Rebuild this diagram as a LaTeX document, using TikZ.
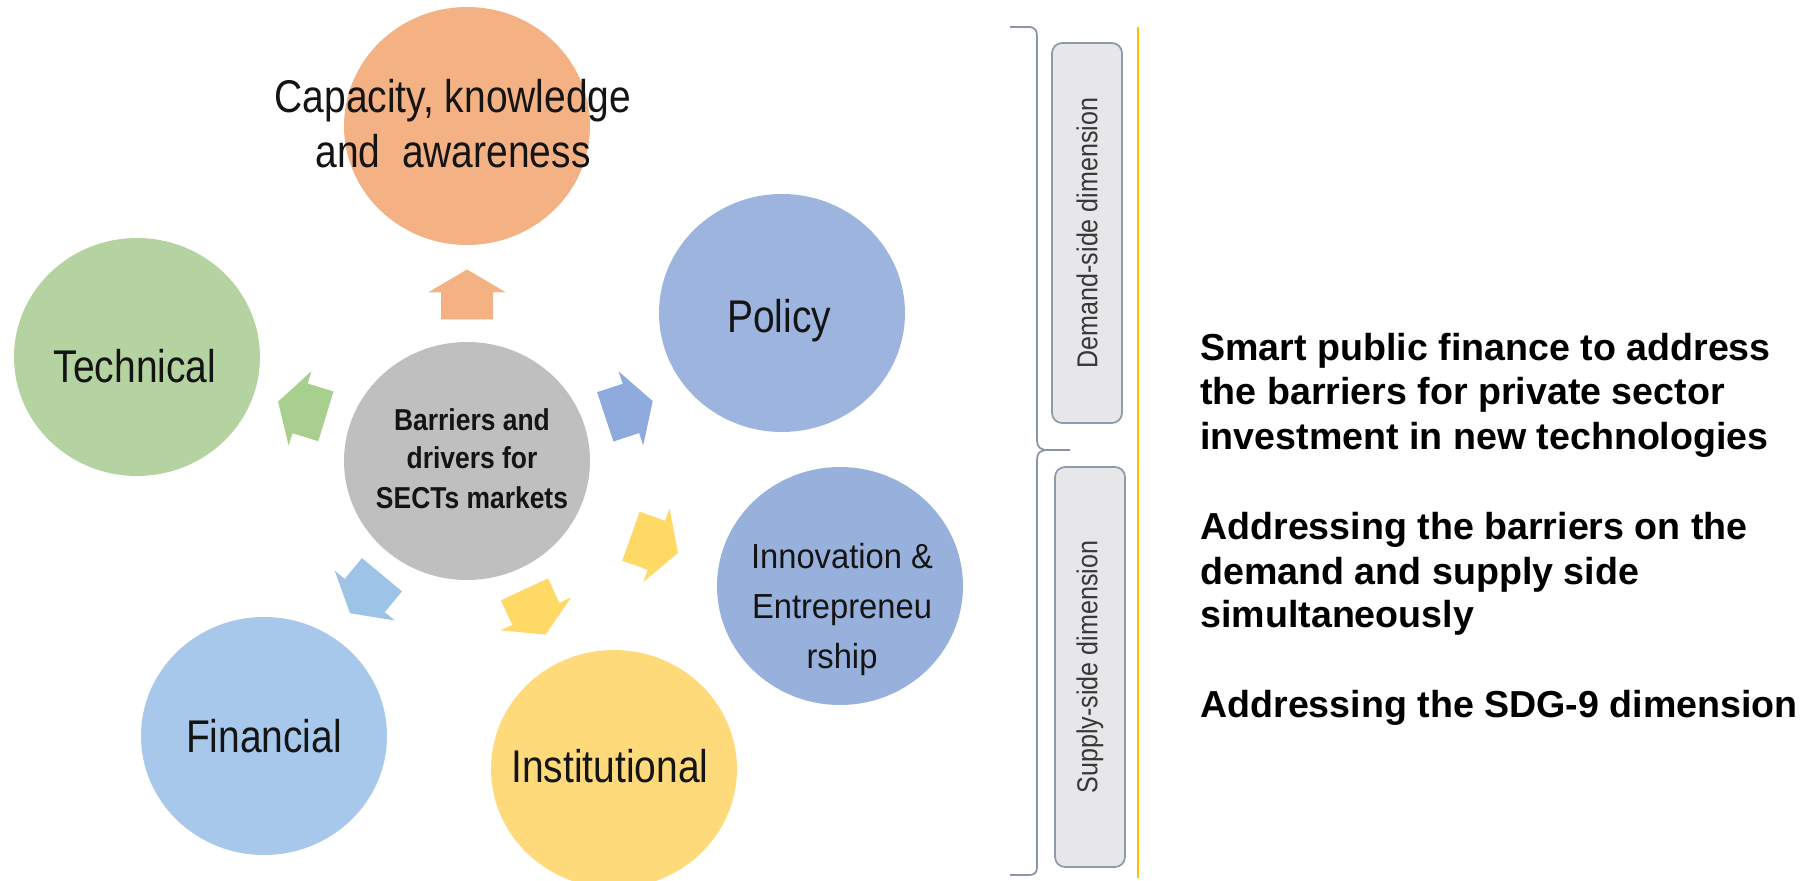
\documentclass[tikz,border=0pt]{standalone}
\usepackage{fontspec}
\setmainfont{Liberation Sans}
\newfontfamily\lblfont[FakeStretch=0.85]{Liberation Sans}
\newfontfamily\innfont[FakeStretch=0.94]{Liberation Sans}
\newfontfamily\ctrfont[FakeStretch=0.875]{Liberation Sans Bold}
\newfontfamily\dimfont[FakeStretch=0.87]{Liberation Sans}
\newfontfamily\rtfont{Liberation Sans Bold}
\usetikzlibrary{shapes.geometric}
\definecolor{cOrange}{HTML}{F4B183}
\definecolor{cGreen}{HTML}{B4D3A0}
\definecolor{cPolicy}{HTML}{9DB4DE}
\definecolor{cInnov}{HTML}{98B0DC}
\definecolor{cFin}{HTML}{A7C8EA}
\definecolor{cInst}{HTML}{FFDA7A}
\definecolor{cGray}{HTML}{BFBFBF}
\definecolor{aOrange}{HTML}{F4B183}
\definecolor{aGreen}{HTML}{A9CF8F}
\definecolor{aBlue}{HTML}{8FAADC}
\definecolor{aYellow}{HTML}{FFD966}
\definecolor{aLight}{HTML}{9DC3E6}
\definecolor{txt}{HTML}{141414}
\definecolor{boxfill}{HTML}{E7E7EA}
\definecolor{boxline}{HTML}{8E9AAE}
\definecolor{brace}{HTML}{8A94A4}
\definecolor{gold}{HTML}{FFC000}
\tikzset{
  bub/.style={ellipse, minimum width=4.92cm, minimum height=4.76cm, inner sep=0pt, draw=none},
  big/.style={font=\lblfont\fontsize{26.1}{31}\selectfont, text=txt, inner sep=0pt, anchor=base},
  inn/.style={font=\innfont\fontsize{19.8}{24}\selectfont, text=txt, inner sep=0pt, anchor=base},
  ctr/.style={font=\ctrfont\fontsize{17.2}{21}\selectfont, text=txt, inner sep=0pt, anchor=base},
  rt/.style={font=\rtfont\fontsize{21.4}{25}\selectfont, text=black, inner sep=0pt, anchor=base west},
  dimbox/.style={rectangle, rounded corners=0.2cm, fill=boxfill, draw=boxline, line width=1pt,
    minimum height=1.4cm, inner sep=0pt, rotate=90, font=\dimfont\fontsize{16.4}{20}\selectfont, text=txt!85},
  barrow/.pic={\path[pic actions] (25,0) -- (2,39) -- (2,26) -- (-25,26) -- (-25,-26) -- (2,-26) -- (2,-39) -- cycle;}
}
\begin{document}
\begin{tikzpicture}[x=0.02cm,y=-0.02cm]
\useasboundingbox (0,0) rectangle (1808,881);
\clip (0,0) rectangle (1808,881);
\fill[white] (0,0) rectangle (1808,881);

% circles
\node[bub, fill=cOrange] (cap) at (467,126) {};
\node[bub, fill=cGreen] (tech) at (137,357) {};
\node[bub, fill=cPolicy] (pol) at (782,313) {};
\node[bub, fill=cInnov] (inno) at (840,586) {};
\node[bub, fill=cFin] (fin) at (264,736) {};
\node[bub, fill=cInst] (inst) at (614,769) {};
\node[bub, fill=cGray] (ctr) at (467,461) {};

% labels
\node[big] (capA) at (453,113) {Capacity, knowledge};
\node[big] (capB) at (453,168) {and\ \ awareness};
\node[big] (techL) at (135,383) {Technical};
\node[big] (polL) at (779,333) {Policy};
\node[big] (finL) at (264,752) {Financial};
\node[big] (instL) at (610,782) {Institutional};
\node[inn] (innA) at (842,568) {Innovation \&};
\node[inn] (innB) at (842,618) {Entrepreneu};
\node[inn] (innC) at (842,668) {rship};
\node[ctr] (ctrA) at (472,431) {Barriers and};
\node[ctr] (ctrB) at (472,469) {drivers for};
\node[ctr] (ctrC) at (472,508) {SECTs markets};

% block arrows
\pic[fill=aOrange, rotate=90] at (467,294.5) {barrow};
\pic[fill=aGreen, rotate=163] at (302,409) {barrow};
\pic[fill=aBlue, rotate=18.4] at (629,409) {barrow};
\pic[fill=aYellow, rotate=-19.6] at (654.5,544.6) {barrow};
\pic[fill=aYellow, rotate=-65] at (535,612) {barrow};
\pic[fill=aLight, rotate=-129.7] at (366,594) {barrow};

% brace
\draw[brace, line width=1pt]
  (1010,27) -- (1028,27) .. controls (1035,27) and (1037,30) .. (1037,37)
  -- (1037,440) .. controls (1037,447) and (1040,450) .. (1048,450) -- (1070,450);
\draw[brace, line width=1pt]
  (1048,450) .. controls (1040,450) and (1037,453) .. (1037,460)
  -- (1037,866) .. controls (1037,873) and (1035,875) .. (1028,875) -- (1010,875);

% side boxes
\node[dimbox, minimum width=7.6cm] (dem) at (1087,233) {Demand-side dimension};
\node[dimbox, minimum width=8.0cm] (sup) at (1090,667) {Supply-side dimension};

% gold line
\draw[gold, line width=1.2pt] (1138,27) -- (1138,878);

% right text
\node[rt] (r1) at (1200,361) {Smart public finance to address};
\node[rt] (r2) at (1200,405) {the barriers for private sector};
\node[rt] (r3) at (1200,450) {investment in new technologies};
\node[rt] (r4) at (1200,540) {Addressing the barriers on the};
\node[rt] (r5) at (1200,584) {demand and supply side};
\node[rt] (r6) at (1200,627) {simultaneously};
\node[rt] (r7) at (1200,717) {Addressing the SDG-9 dimension};
\end{tikzpicture}
\end{document}
